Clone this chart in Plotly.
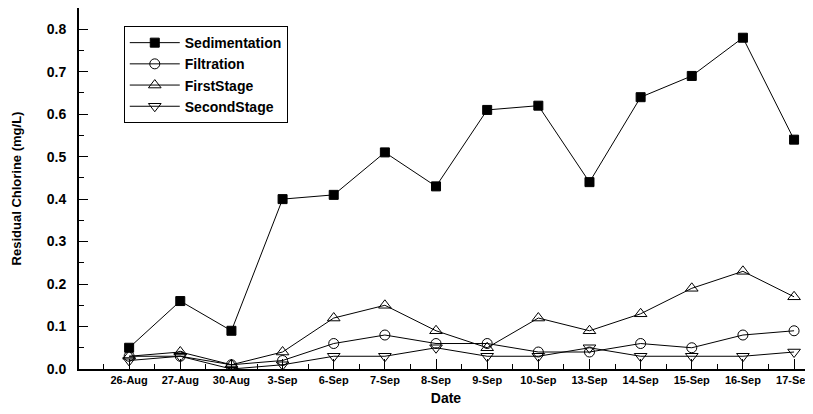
import plotly.graph_objects as go

dates = ["26-Aug", "27-Aug", "30-Aug", "3-Sep", "6-Sep", "7-Sep", "8-Sep",
         "9-Sep", "10-Sep", "13-Sep", "14-Sep", "15-Sep", "16-Sep", "17-Sep"]
sedimentation = [0.05, 0.16, 0.09, 0.40, 0.41, 0.51, 0.43, 0.61, 0.62, 0.44, 0.64, 0.69, 0.78, 0.54]
filtration = [0.03, 0.03, 0.01, 0.02, 0.06, 0.08, 0.06, 0.06, 0.04, 0.04, 0.06, 0.05, 0.08, 0.09]
first_stage = [0.03, 0.04, 0.01, 0.04, 0.12, 0.15, 0.09, 0.05, 0.12, 0.09, 0.13, 0.19, 0.23, 0.17]
second_stage = [0.02, 0.03, 0.00, 0.01, 0.03, 0.03, 0.05, 0.03, 0.03, 0.05, 0.03, 0.03, 0.03, 0.04]
y_ticks = [0.0, 0.1, 0.2, 0.3, 0.4, 0.5, 0.6, 0.7, 0.8]

idx = list(range(len(dates)))
FONT = "Liberation Sans, Arial, sans-serif"

series = [
    ("Sedimentation", sedimentation, "square", "black", 9),
    ("Filtration", filtration, "circle-open", "black", 10),
    ("FirstStage", first_stage, "triangle-up-open", "black", 11),
    ("SecondStage", second_stage, "triangle-down-open", "black", 11),
]

fig = go.Figure()
for name, vals, sym, col, size in series:
    fig.add_trace(go.Scatter(
        x=idx, y=vals, name=name, mode="lines+markers",
        line=dict(color="black", width=1),
        marker=dict(symbol=sym, size=size, color=col,
                    line=dict(color="black", width=1)),
    ))

fig.update_layout(
    width=805, height=406,
    margin=dict(l=71, r=0, t=0, b=45),
    plot_bgcolor="white", paper_bgcolor="white",
    font=dict(family=FONT, color="black"),
    showlegend=True,
    legend=dict(
        x=0.061, y=0.95, xanchor="left", yanchor="top",
        bgcolor="white", bordercolor="black", borderwidth=1,
        font=dict(family=FONT, size=14, weight="bold", color="black"),
        itemwidth=50, tracegroupgap=0,
    ),
    xaxis=dict(
        range=[-0.98, 13.37], automargin=False,
        tickmode="array", tickvals=idx, ticktext=dates,
        ticks="inside", ticklen=10, tickwidth=1, tickcolor="black",
        minor=dict(tick0=-0.5, dtick=1, ticks="inside", ticklen=5,
                   tickwidth=1, tickcolor="black"),
        showline=True, linecolor="black", linewidth=2,
        showgrid=False, zeroline=False,
        tickfont=dict(family=FONT, size=11, weight="bold", color="black"),
        title=dict(text="Date", standoff=8,
                   font=dict(family=FONT, size=14, weight="bold", color="black")),
    ),
    yaxis=dict(
        range=[0, 0.85], automargin=False,
        tickmode="array", tickvals=y_ticks,
        ticktext=[f"{v:.1f}" for v in y_ticks],
        ticks="inside", ticklen=9, tickwidth=1, tickcolor="black",
        minor=dict(tick0=0.05, dtick=0.1, ticks="inside", ticklen=5,
                   tickwidth=1, tickcolor="black"),
        showline=True, linecolor="black", linewidth=2,
        showgrid=False, zeroline=False,
        ticklabelstandoff=8,
        tickfont=dict(family=FONT, size=14, weight="bold", color="black"),
        title=dict(text="Residual Chlorine (mg/L)", standoff=22,
                   font=dict(family=FONT, size=13, weight="bold", color="black")),
    ),
)

fig.write_html("out.html")
